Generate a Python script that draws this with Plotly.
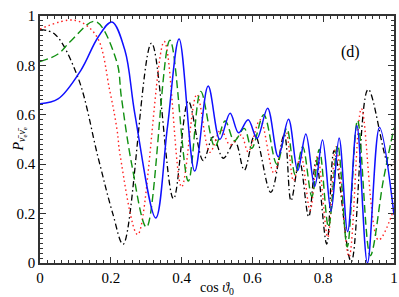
import plotly.graph_objects as go

# ---- data ----
blue_x = [0.000, 0.051, 0.115, 0.164, 0.203, 0.240, 0.268, 0.327, 0.360, 0.393, 0.437, 0.475,
          0.508, 0.537, 0.561, 0.588, 0.613, 0.643, 0.673, 0.702, 0.728, 0.751, 0.776, 0.798,
          0.822, 0.845, 0.869, 0.895, 0.925, 0.959, 1.000]
blue_y = [0.645, 0.664, 0.779, 0.914, 0.976, 0.860, 0.603, 0.182, 0.550, 0.907, 0.372, 0.717,
          0.500, 0.606, 0.527, 0.580, 0.505, 0.627, 0.430, 0.582, 0.374, 0.522, 0.310, 0.498,
          0.210, 0.506, 0.127, 0.556, 0.000, 0.549, 0.195]

green_x = [0.000, 0.051, 0.088, 0.156, 0.216, 0.230, 0.259, 0.301, 0.367, 0.419, 0.454, 0.494,
           0.523, 0.549, 0.577, 0.598, 0.632, 0.669, 0.697, 0.721, 0.742, 0.768, 0.789, 0.815,
           0.841, 0.868, 0.897, 0.933, 0.970, 1.000]
green_y = [0.815, 0.846, 0.900, 0.978, 0.819, 0.670, 0.400, 0.145, 0.902, 0.332, 0.695, 0.471,
           0.575, 0.495, 0.545, 0.464, 0.600, 0.400, 0.545, 0.357, 0.471, 0.270, 0.460, 0.146,
           0.477, 0.065, 0.578, 0.030, 0.336, 0.547]

red_x = [0.000, 0.098, 0.159, 0.197, 0.218, 0.226, 0.276, 0.351, 0.400, 0.443, 0.480, 0.511,
         0.537, 0.568, 0.588, 0.622, 0.661, 0.694, 0.716, 0.737, 0.763, 0.784, 0.813, 0.836,
         0.873, 0.908, 0.956, 1.000]
red_y = [0.947, 0.983, 0.920, 0.698, 0.536, 0.440, 0.115, 0.897, 0.308, 0.683, 0.448, 0.540,
         0.478, 0.518, 0.450, 0.580, 0.364, 0.536, 0.333, 0.434, 0.212, 0.434, 0.104, 0.471,
         0.025, 0.625, 0.093, 0.220]

black_x = [0.000, 0.042, 0.107, 0.164, 0.206, 0.235, 0.315, 0.377, 0.419, 0.461, 0.489, 0.518,
           0.551, 0.577, 0.607, 0.652, 0.690, 0.709, 0.733, 0.759, 0.780, 0.810, 0.831, 0.879,
           0.927, 0.987, 1.000]
black_y = [0.945, 0.926, 0.752, 0.428, 0.198, 0.076, 0.890, 0.260, 0.655, 0.415, 0.511, 0.424,
           0.491, 0.376, 0.518, 0.286, 0.520, 0.252, 0.414, 0.187, 0.414, 0.077, 0.455, 0.005,
           0.703, 0.390, 0.410]

tick_vals = [0, 0.2, 0.4, 0.6, 0.8, 1]
tick_text = ["0", "0.2", "0.4", "0.6", "0.8", "1"]

FONT = "Liberation Serif, Times New Roman, serif"

fig = go.Figure()
fig.add_trace(go.Scatter(x=black_x, y=black_y, mode="lines", line_shape="spline",
                         line=dict(color="black", width=1.3, dash="6px,3px,1.5px,3px")))
fig.add_trace(go.Scatter(x=red_x, y=red_y, mode="lines", line_shape="spline",
                         line=dict(color="#ff2020", width=1.4, dash="1.5px,3px")))
fig.add_trace(go.Scatter(x=green_x, y=green_y, mode="lines", line_shape="spline",
                         line=dict(color="#109010", width=1.4, dash="8px,4px")))
fig.add_trace(go.Scatter(x=blue_x, y=blue_y, mode="lines", line_shape="spline",
                         line=dict(color="#1010ff", width=1.5)))

axis_common = dict(range=[0, 1], tickvals=tick_vals, ticktext=tick_text,
                   ticks="inside", ticklen=6, tickwidth=1.2, tickcolor="#333",
                   showline=True, linecolor="#333", linewidth=1.5, mirror="ticks",
                   showgrid=False, zeroline=False, automargin=False,
                   tickfont=dict(family=FONT, size=15, color="black"),
                   minor=dict(dtick=0.02, ticks="inside", ticklen=3, tickcolor="#333",
                              tickwidth=1, showgrid=False))

fig.update_layout(
    width=399, height=297,
    margin=dict(l=40, r=5, t=16, b=34, autoexpand=False),
    paper_bgcolor="white", plot_bgcolor="white",
    showlegend=False,
    font=dict(family=FONT),
    xaxis=axis_common,
    yaxis=axis_common,
    annotations=[
        dict(text="(d)", x=0.876, y=0.854, xref="x", yref="y", showarrow=False,
             font=dict(family=FONT, size=16, color="black")),
        dict(text="cos <i>ϑ</i><sub>0</sub>", x=0.5, y=0, xref="paper", yref="paper",
             yshift=-15, yanchor="top", showarrow=False,
             font=dict(family=FONT, size=14, color="black")),
        dict(text="<i>P</i><sub><i>ν̄</i><sub>e</sub><i>ν̄</i><sub>e</sub></sub>", x=0, y=0.5,
             xref="paper", yref="paper", xshift=-32, textangle=-90, showarrow=False,
             font=dict(family=FONT, size=14, color="black")),
    ],
)

fig.write_html("out.html", config={"displayModeBar": False},
               post_script="document.body.style.margin='0';document.body.style.padding='0';")
